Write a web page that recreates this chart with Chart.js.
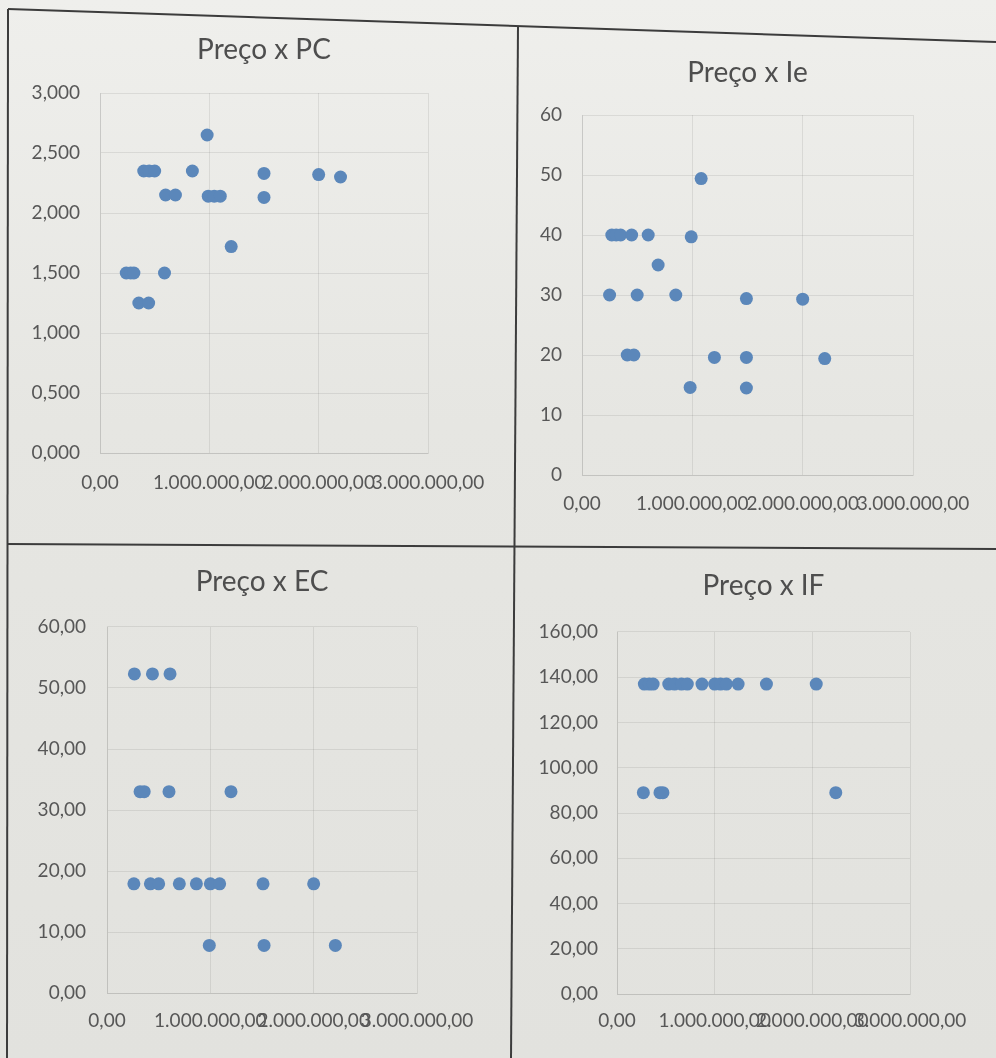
<!DOCTYPE html>
<html>
<head>
<meta charset="utf-8">
<script src="https://cdn.jsdelivr.net/npm/chart.js@4.4.1/dist/chart.umd.min.js"></script>
<style>
  html, body { margin: 0; padding: 0; }
  body {
    width: 996px; height: 1058px; overflow: hidden; position: relative;
    background: linear-gradient(to bottom, #efefec 0%, #e6e6e2 40%, #e2e2de 100%);
  }
  canvas { position: absolute; }
  #lines { position: absolute; left: 0; top: 0; pointer-events: none; }
</style>
</head>
<body>
<svg id="lines" width="996" height="1058">
  <g stroke="#3c3c3c" stroke-width="2" fill="none">
    <line x1="8" y1="9" x2="996" y2="42"></line>
    <line x1="8" y1="9" x2="7" y2="1058"></line>
    <line x1="518" y1="26" x2="511" y2="1058"></line>
    <line x1="7" y1="544" x2="996" y2="549"></line>
  </g>
</svg>
<canvas id="chartPC"></canvas>
<canvas id="chartIe"></canvas>
<canvas id="chartEC"></canvas>
<canvas id="chartIF"></canvas>
<script>
// Preço x PC
const pcPreco = [240000, 280000, 310000, 355000, 445000, 400000, 450000, 500000, 600000, 690000, 590000, 845000, 980000, 990000, 1045000, 1100000, 1200000, 1500000, 1500000, 2000000, 2200000];
const pcValor = [1.5, 1.5, 1.5, 1.25, 1.25, 2.35, 2.35, 2.35, 2.15, 2.15, 1.5, 2.35, 2.65, 2.14, 2.14, 2.14, 1.72, 2.33, 2.13, 2.32, 2.30];

// Preço x Ie
const iePreco = [250000, 270000, 310000, 350000, 450000, 600000, 690000, 500000, 410000, 470000, 850000, 990000, 1080000, 980000, 1200000, 1490000, 1490000, 1490000, 2000000, 2200000];
const ieValor = [30, 40, 40, 40, 40, 40, 35, 30, 20, 20, 30, 39.7, 49.4, 14.6, 19.6, 29.4, 19.6, 14.5, 29.3, 19.4];

// Preço x EC
const ecPreco = [265000, 440000, 610000, 320000, 360000, 600000, 1200000, 260000, 420000, 500000, 700000, 865000, 1000000, 1090000, 1510000, 2000000, 990000, 1520000, 2210000];
const ecValor = [52.3, 52.3, 52.3, 33, 33, 33, 33, 17.9, 17.9, 17.9, 17.9, 17.9, 17.9, 17.9, 17.9, 17.9, 7.8, 7.8, 7.8];

// Preço x IF
const ifPreco = [280000, 330000, 370000, 530000, 590000, 660000, 720000, 870000, 1000000, 1060000, 1120000, 1240000, 1530000, 2040000, 270000, 440000, 470000, 2240000];
const ifValor = [137, 137, 137, 137, 137, 137, 137, 137, 137, 137, 137, 137, 137, 137, 89, 89, 89, 89];

// eixo x (mesmo nos 4)
const xMax = 3000000;
const xStep = 1000000;

const DOT = '#5b87ba';
const GRID = 'rgba(0,0,0,0.08)';
const TEXT = '#575757';
const TITLE_SIZE = 28;
const TICK_SIZE = 19;

Chart.defaults.font.family = 'Lato, "Open Sans", sans-serif';
Chart.defaults.color = TEXT;

// 1.000.000,00 style numbers
function fmtNum(v, dec) {
  const parts = Math.abs(v).toFixed(dec).split('.');
  const int = parts[0].replace(/\B(?=(\d{3})+(?!\d))/g, '.');
  return (v < 0 ? '-' : '') + int + (dec > 0 ? ',' + parts[1] : '');
}

function makeChart(id, title, xs, ys, yMax, yStep, yDec, g) {
  const canvas = document.getElementById(id);
  canvas.width = g.width;
  canvas.height = g.height;
  canvas.style.left = g.left + 'px';
  canvas.style.top = g.top + 'px';

  const lh = TITLE_SIZE * 1.2;
  const padTop = g.titleY - lh / 2 - g.top;
  const padBottom = g.plot.t - (g.top + padTop + lh);

  return new Chart(canvas, {
    type: 'scatter',
    data: {
      datasets: [{
        data: xs.map((x, i) => ({ x: x, y: ys[i] })),
        backgroundColor: DOT,
        borderColor: DOT,
        borderWidth: 0,
        pointRadius: 6.5,
        pointHoverRadius: 6.5
      }]
    },
    options: {
      responsive: false,
      animation: false,
      devicePixelRatio: 1,
      layout: { padding: { left: 0, top: 0, bottom: 0, right: g.left + g.width - g.plot.r } },
      plugins: {
        legend: { display: false },
        tooltip: { enabled: false },
        title: {
          display: true,
          text: title,
          fullSize: false,
          color: '#4e4e4e',
          font: { size: TITLE_SIZE, weight: 'normal' },
          padding: { top: padTop, bottom: padBottom }
        }
      },
      scales: {
        x: {
          type: 'linear',
          min: 0,
          max: xMax,
          ticks: {
            stepSize: xStep,
            autoSkip: false,
            maxRotation: 0,
            minRotation: 0,
            padding: g.xLabelY - g.plot.b - TICK_SIZE * 0.6,
            font: { size: TICK_SIZE },
            callback: v => fmtNum(v, 2)
          },
          grid: { color: GRID, drawTicks: false },
          border: { color: GRID },
          afterFit: s => { s.height = g.top + g.height - g.plot.b; }
        },
        y: {
          min: 0,
          max: yMax,
          ticks: {
            stepSize: yStep,
            padding: g.plot.l - g.yLabelRight,
            font: { size: TICK_SIZE },
            callback: v => fmtNum(v, yDec)
          },
          grid: { color: GRID, drawTicks: false },
          border: { color: GRID },
          afterFit: s => { s.width = g.plot.l - g.left; }
        }
      }
    }
  });
}

// Charts
makeChart('chartPC', 'Preço x PC', pcPreco, pcValor, 3, 0.5, 3,
  { left: 20, top: 25, width: 485, height: 510, plot: { l: 100, r: 428, t: 93, b: 453 }, titleY: 50, xLabelY: 483, yLabelRight: 80 });

makeChart('chartIe', 'Preço x Ie', iePreco, ieValor, 60, 10, 0,
  { left: 522, top: 40, width: 468, height: 500, plot: { l: 582, r: 913, t: 115, b: 475 }, titleY: 73, xLabelY: 504, yLabelRight: 562 });

makeChart('chartEC', 'Preço x EC', ecPreco, ecValor, 60, 10, 2,
  { left: 20, top: 552, width: 485, height: 496, plot: { l: 107, r: 417, t: 627, b: 993 }, titleY: 582, xLabelY: 1021, yLabelRight: 86 });

makeChart('chartIF', 'Preço x IF', ifPreco, ifValor, 160, 20, 2,
  { left: 522, top: 552, width: 468, height: 496, plot: { l: 617, r: 910, t: 632, b: 994 }, titleY: 586, xLabelY: 1021, yLabelRight: 598 });
</script>
</body>
</html>
